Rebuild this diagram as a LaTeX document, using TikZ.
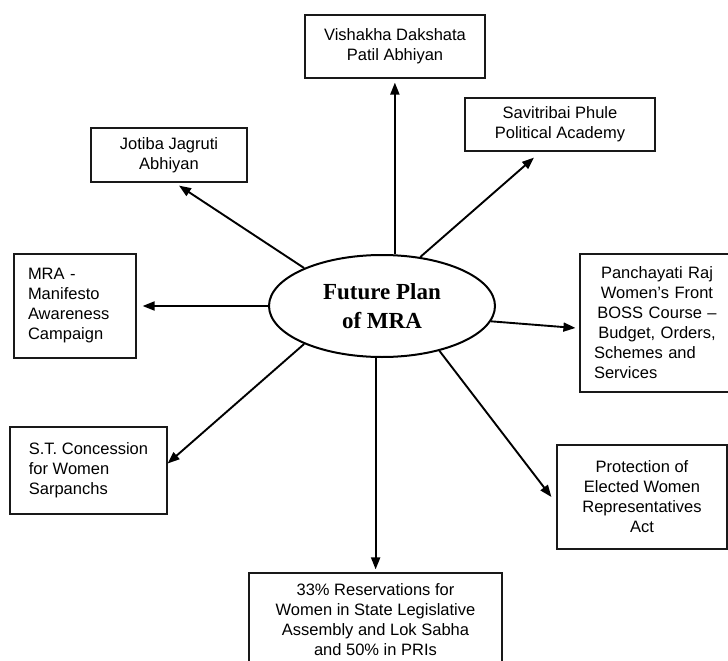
\documentclass[tikz,border=0pt]{standalone}
\usepackage{fontspec}
\setmainfont{Liberation Sans}
\newfontfamily\titlefont{Liberation Serif}
\usetikzlibrary{arrows.meta,calc,shapes.geometric}
\begin{document}
\begin{tikzpicture}[x=1pt,y=-1pt,
  box/.style={draw=black!90,line width=1.2pt,rectangle,inner sep=0pt,align=center,
    font=\fontsize{16.5}{20}\selectfont},
  arr/.style={line width=1.9pt,-{Triangle[length=12pt,width=9pt]}},
  hub/.style={draw,ellipse,line width=2pt,minimum width=226pt,minimum height=102pt,
    inner sep=0pt,align=center,font=\titlefont\bfseries\fontsize{23}{29}\selectfont}]
\clip (0,0) rectangle (728,661);
\fill[white] (0,0) rectangle (728,661);
\node[hub] (c) at (382,306) {Future Plan\\of MRA};
\node[box,minimum width=180pt,minimum height=63pt] (vis) at (395,46.5) {Vishakha Dakshata\\Patil Abhiyan};
\node[box,minimum width=190pt,minimum height=53pt] (sav) at (560,124.5) {Savitribai Phule\\Political Academy};
\node[box,minimum width=156pt,minimum height=54pt] (jot) at (169,155) {Jotiba Jagruti\\Abhiyan};
\node[box,minimum width=122pt,minimum height=104pt,text width=94pt,align=left] (mra) at (75,306) {MRA -\\Manifesto\\Awareness\\Campaign};
\node[box,minimum width=154pt,minimum height=138pt,text width=126pt,align=left] (pan) at (657,323)
  {{\centering Panchayati~Raj\\Women's~Front\\BOSS~Course~–\\Budget,~Orders,\par}\raggedright Schemes and\\Services};
\node[box,minimum width=157pt,minimum height=87pt,align=left] (st) at (88.5,470.5) {S.T. Concession\\for Women\\Sarpanchs};
\node[box,minimum width=170pt,minimum height=104pt] (pro) at (642,497) {Protection of\\Elected Women\\Representatives\\Act};
\node[box,minimum width=253pt,minimum height=94pt] (res) at (375.5,620) {33\% Reservations for\\Women in State Legislative\\Assembly and Lok Sabha\\and 50\% in PRIs};
\draw[arr] (c.76.5) -- ($(c.76.5 |- vis.south)+(0,4)$);
\draw[arr] (c.52) -- ($(sav.south)+(-26,6)$);
\draw[arr] (c.154.6) -- ($(jot.south)+(10,3)$);
\draw[arr] (c.west) -- ($(mra.east)+(6,0)$);
\draw[arr] (c.-8) -- ($(pan.west)+(-4,5)$);
\draw[arr] (c.-154) -- ($(st.east)+(0,-7)$);
\draw[arr] (c.-97.8) -- ($(c.-97.8 |- res.north)+(0,-3)$);
\draw[arr] (c.-38) -- ($(pro.west)+(-5,0)$);
\end{tikzpicture}
\end{document}
